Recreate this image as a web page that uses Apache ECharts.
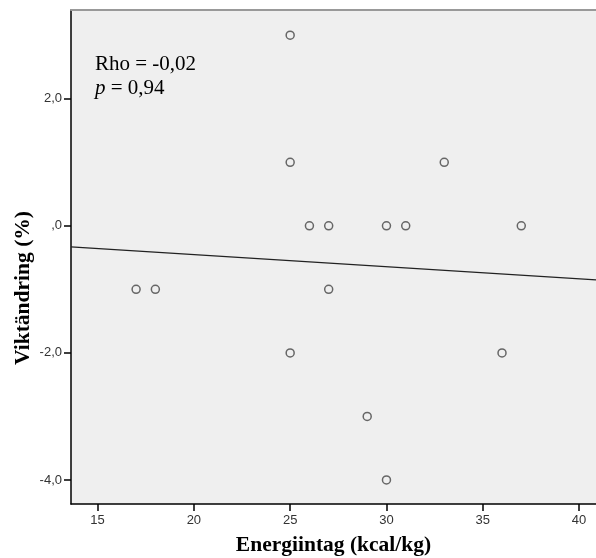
<!DOCTYPE html>
<html>
<head>
<meta charset="utf-8">
<script src="https://cdn.jsdelivr.net/npm/echarts@6/dist/echarts.min.js"></script>
<style>
  html, body { margin: 0; padding: 0; background: #fff; }
  #chart { width: 596px; height: 558px; }
</style>
</head>
<body>
<div id="chart"></div>
<script>
// Energy intake (kcal/kg) against weight change (%)
const energyIntake = [25, 25, 33, 26, 27, 30, 31, 37, 17, 18, 27, 25, 36, 29, 30];
const weightChange = [3, 1, 1, 0, 0, 0, 0, 0, -1, -1, -1, -2, -2, -3, -4];

const xTickValues = [15, 20, 25, 30, 35, 40];
const yTickValues = [-4, -2, 0, 2];
const yTickLabels = ['-4,0', '-2,0', ',0', '2,0'];

const xRange = [13.62, 40.88];
const yRange = [-4.378, 3.397];

// Least-squares fit line across the visible x range
function linearFit(xs, ys) {
  const n = xs.length;
  const mx = xs.reduce((a, b) => a + b, 0) / n;
  const my = ys.reduce((a, b) => a + b, 0) / n;
  let sxy = 0, sxx = 0;
  for (let i = 0; i < n; i++) {
    sxy += (xs[i] - mx) * (ys[i] - my);
    sxx += (xs[i] - mx) * (xs[i] - mx);
  }
  const slope = sxy / sxx;
  return x => my + slope * (x - mx);
}
const fit = linearFit(energyIntake, weightChange);
const fitLine = xRange.map(x => [x, fit(x)]);

const points = energyIntake.map((x, i) => [x, weightChange[i]]);

const chart = echarts.init(document.getElementById('chart'), null, { renderer: 'canvas' });
chart.setOption({
  animation: false,
  backgroundColor: '#ffffff',
  grid: {
    left: 71, top: 10, right: 0, bottom: 54,
    containLabel: false,
    outerBoundsMode: 'none',
    show: true, backgroundColor: '#efefef', borderWidth: 0
  },
  xAxis: [{
    type: 'value',
    min: xRange[0], max: xRange[1],
    name: 'Energiintag (kcal/kg)',
    nameLocation: 'middle',
    nameMoveOverlap: false,
    nameGap: 30,
    nameTextStyle: { fontFamily: 'Liberation Serif', fontWeight: 'bold', fontSize: 21.5, color: '#000' },
    axisLine: { show: true, onZero: false, lineStyle: { color: '#000', width: 1.5 } },
    axisTick: { show: true, length: 7, customValues: xTickValues, lineStyle: { color: '#000', width: 1.5 } },
    axisLabel: { customValues: xTickValues, fontFamily: 'Liberation Sans', fontSize: 13, color: '#333', margin: 10 },
    splitLine: { show: false }
  }, {
    type: 'value',
    position: 'top',
    min: xRange[0], max: xRange[1],
    axisLine: { show: true, onZero: false, lineStyle: { color: '#999', width: 2 } },
    axisTick: { show: false },
    axisLabel: { show: false },
    splitLine: { show: false }
  }],
  yAxis: {
    type: 'value',
    min: yRange[0], max: yRange[1],
    name: 'Viktändring (%)',
    nameLocation: 'middle',
    nameMoveOverlap: false,
    nameGap: 37,
    nameTextStyle: {
      fontFamily: 'Liberation Serif', fontWeight: 'bold', fontSize: 21.5, color: '#000',
      padding: [0, 62, 0, 0]
    },
    axisLine: { show: true, onZero: false, lineStyle: { color: '#000', width: 1.5 } },
    axisTick: { show: true, length: 7, customValues: yTickValues, lineStyle: { color: '#000', width: 1.5 } },
    axisLabel: {
      customValues: yTickValues,
      formatter: v => yTickLabels[yTickValues.indexOf(Math.round(v))] ?? '',
      fontFamily: 'Liberation Sans', fontSize: 13, color: '#333', margin: 9
    },
    splitLine: { show: false }
  },
  graphic: [{
    type: 'text',
    left: 95, top: 54,
    style: {
      text: 'Rho = -0,02',
      font: '21px "Liberation Serif"',
      fill: '#000'
    }
  }, {
    type: 'text',
    left: 95, top: 78,
    style: {
      rich: {
        i: { font: 'italic 21px "Liberation Serif"', fill: '#000' },
        n: { font: '21px "Liberation Serif"', fill: '#000' }
      },
      text: '{i|p}{n| = 0,94}'
    }
  }],
  series: [{
    type: 'line',
    data: fitLine,
    showSymbol: false,
    symbol: 'none',
    lineStyle: { color: '#222', width: 1.2 },
    silent: true
  }, {
    type: 'scatter',
    data: points,
    symbol: 'circle',
    symbolSize: 8,
    itemStyle: { color: 'rgba(0,0,0,0)', borderColor: '#444', borderWidth: 1.5 }
  }]
});
</script>
</body>
</html>
